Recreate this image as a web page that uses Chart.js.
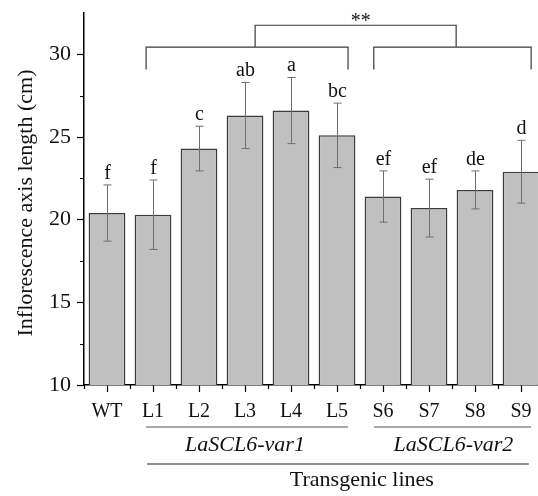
<!DOCTYPE html>
<html>
<head>
<meta charset="utf-8">
<script src="https://cdn.jsdelivr.net/npm/chart.js@4.4.0/dist/chart.umd.min.js"></script>
<style>
html, body { margin: 0; padding: 0; background: #fff; overflow: hidden; }
#wrap { width: 546px; height: 496px; }
</style>
</head>
<body>
<div id="wrap"><canvas id="lengthChart" width="546" height="496"></canvas></div>
<script>
// ---------- 数据 ----------
const lineNames = ['WT', 'L1', 'L2', 'L3', 'L4', 'L5', 'S6', 'S7', 'S8', 'S9'];
const lengthMeans = [20.4, 20.3, 24.3, 26.3, 26.6, 25.1, 21.4, 20.7, 21.8, 22.9];
const lengthErrors = [1.7, 2.1, 1.35, 2.0, 2.0, 1.95, 1.55, 1.75, 1.15, 1.9];
const sigLetters = ['f', 'f', 'c', 'ab', 'a', 'bc', 'ef', 'ef', 'de', 'd'];
const yTickValues = [10, 15, 20, 25, 30];
const yMinorTicks = [12.5, 17.5, 22.5, 27.5];
const groupNames = ['LaSCL6-var1', 'LaSCL6-var2'];
const xTitle = 'Transgenic lines';
const yTitle = 'Inflorescence axis length (cm)';

const SERIF = '"Liberation Serif", "Times New Roman", serif';

// 分组括号位置 (类别坐标)
const groupSpans = [[0.85, 5.24], [5.80, 9.22]];
const groupCenters = [3.0, 7.53];
const topSpan = [3.22, 7.59];

// ---------- 注释插件: 误差线, 字母, 括号, 分组 ----------
const annotations = {
    id: 'annotations',
    afterDatasetsDraw(chart) {
        const { ctx, scales: { x, y }, chartArea } = chart;
        ctx.save();

        // 误差线
        ctx.strokeStyle = '#6e6e6e';
        ctx.lineWidth = 1;
        lengthMeans.forEach((m, i) => {
            const px = Math.round(x.getPixelForValue(i)) + 0.5;
            const top = y.getPixelForValue(m + lengthErrors[i]);
            const bot = y.getPixelForValue(m - lengthErrors[i]);
            ctx.beginPath();
            ctx.moveTo(px, top); ctx.lineTo(px, bot);
            ctx.moveTo(px - 4, top); ctx.lineTo(px + 4, top);
            ctx.moveTo(px - 4, bot); ctx.lineTo(px + 4, bot);
            ctx.stroke();

            ctx.fillStyle = '#111';
            ctx.font = '20px ' + SERIF;
            ctx.textAlign = 'center';
            ctx.textBaseline = 'alphabetic';
            ctx.fillText(sigLetters[i], px, top - 6);
        });

        // 小刻度
        ctx.strokeStyle = '#000';
        ctx.lineWidth = 1.2;
        ctx.beginPath();
        for (let i = 0; i <= lineNames.length; i++) {
            const px = Math.round(x.getPixelForValue(i - 0.5)) + 0.5;
            ctx.moveTo(px, chartArea.bottom);
            ctx.lineTo(px, chartArea.bottom + 4);
        }
        yMinorTicks.forEach(v => {
            const py = Math.round(y.getPixelForValue(v)) + 0.5;
            ctx.moveTo(chartArea.left, py);
            ctx.lineTo(chartArea.left - 4, py);
        });
        ctx.stroke();

        // 显著性括号
        const yLow = y.getPixelForValue(29.09);
        const yMid = y.getPixelForValue(30.44);
        const yTop = y.getPixelForValue(31.76);
        ctx.strokeStyle = '#3a3a3a';
        ctx.lineWidth = 1.2;
        ctx.beginPath();
        groupSpans.forEach(([a, b]) => {
            const xa = x.getPixelForValue(a), xb = x.getPixelForValue(b);
            ctx.moveTo(xa, yLow); ctx.lineTo(xa, yMid);
            ctx.lineTo(xb, yMid); ctx.lineTo(xb, yLow);
        });
        const ta = x.getPixelForValue(topSpan[0]), tb = x.getPixelForValue(topSpan[1]);
        ctx.moveTo(ta, yMid); ctx.lineTo(ta, yTop);
        ctx.lineTo(tb, yTop); ctx.lineTo(tb, yMid);
        ctx.stroke();

        ctx.fillStyle = '#111';
        ctx.font = '20px ' + SERIF;
        ctx.textAlign = 'center';
        ctx.fillText('**', (ta + tb) / 2 + 5, yTop + 2);

        // 分组标注
        const b = chartArea.bottom;
        ctx.strokeStyle = '#555';
        ctx.lineWidth = 1.2;
        ctx.beginPath();
        groupSpans.forEach(([a, c]) => {
            ctx.moveTo(x.getPixelForValue(a), b + 42);
            ctx.lineTo(x.getPixelForValue(c), b + 42);
        });
        ctx.stroke();
        ctx.strokeStyle = '#222';
        ctx.beginPath();
        ctx.moveTo(x.getPixelForValue(0.87), b + 79);
        ctx.lineTo(x.getPixelForValue(9.17), b + 79);
        ctx.stroke();

        ctx.font = 'italic 22px ' + SERIF;
        groupNames.forEach((g, i) => {
            ctx.fillText(g, x.getPixelForValue(groupCenters[i]), b + 66);
        });
        ctx.font = '22px ' + SERIF;
        ctx.fillText(xTitle, x.getPixelForValue(5.54), b + 101);

        // Y 轴标题
        ctx.translate(26, 203);
        ctx.rotate(-Math.PI / 2);
        ctx.textBaseline = 'middle';
        ctx.fillText(yTitle, 0, 0);

        ctx.restore();
    }
};

// ---------- 柱状图 ----------
new Chart(document.getElementById('lengthChart'), {
    type: 'bar',
    data: {
        labels: lineNames,
        datasets: [{
            data: lengthMeans,
            backgroundColor: '#c0c0c0',
            borderColor: '#3c3c3c',
            borderWidth: 1.5,
            barPercentage: 0.8,
            categoryPercentage: 1,
        }]
    },
    options: {
        responsive: false,
        animation: false,
        layout: { padding: { top: 13, right: 2, left: 0, bottom: 0 } },
        plugins: {
            legend: { display: false },
            tooltip: { enabled: false }
        },
        scales: {
            x: {
                grid: { offset: false, drawOnChartArea: false, tickLength: 7, color: '#000', tickWidth: 1.2 },
                border: { color: '#000', width: 1.5 },
                ticks: { color: '#111', font: { family: SERIF, size: 20 }, padding: 8 },
                afterFit: s => { s.height = 111; }
            },
            y: {
                min: 10,
                max: 32.5,
                afterBuildTicks: s => { s.ticks = yTickValues.map(v => ({ value: v })); },
                ticks: { color: '#111', font: { family: SERIF, size: 22 }, padding: 6 },
                grid: { drawOnChartArea: false, tickLength: 7, color: '#000', tickWidth: 1.2 },
                border: { color: '#000', width: 1.5 },
                afterFit: s => { s.width = 84; s.paddingTop = 0; s.paddingBottom = 0; }
            }
        }
    },
    plugins: [annotations]
});
</script>
</body>
</html>
